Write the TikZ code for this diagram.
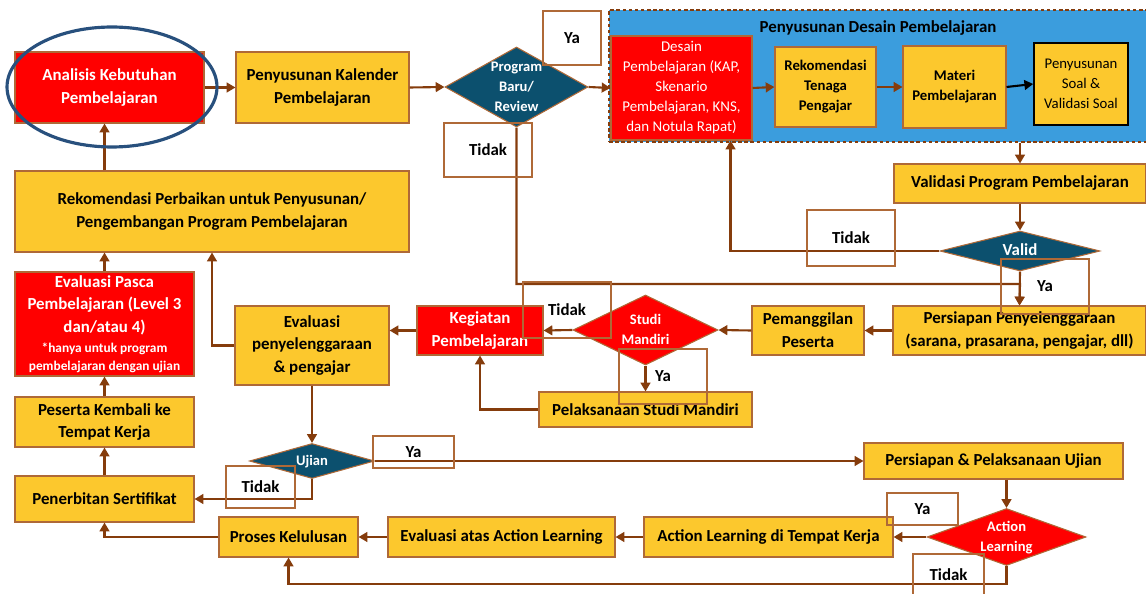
\documentclass[tikz,border=0pt]{standalone}
\usepackage{fontspec}
\setmainfont{Carlito}
\usetikzlibrary{arrows.meta,shapes.geometric}
\definecolor{kuning}{RGB}{252,200,45}
\definecolor{coklat}{RGB}{133,60,12}
\definecolor{garis}{RGB}{175,105,55}
\definecolor{merah}{RGB}{255,0,0}
\definecolor{biru}{RGB}{59,157,221}
\definecolor{birutua}{RGB}{12,80,110}
\definecolor{elips}{RGB}{40,80,125}
% text in a diamond: no height, so the diamond keeps its size
\newcommand{\tumpuk}[1]{\smash{\raisebox{-2.5pt}{\begin{tabular}{@{}c@{}}#1\end{tabular}}}}
\begin{document}
\begin{tikzpicture}[x=0.02cm, y=-0.02cm,
  every node/.style={inner sep=0pt, align=center, font=\bfseries\fontsize{9.6}{13}\selectfont},
  sz/.style 2 args={minimum width=#1*0.02cm, minimum height=#2*0.02cm},
  kotak/.style={draw=garis, line width=0.6pt, fill=kuning},
  merahbox/.style={draw=garis, line width=0.6pt, fill=merah, text=white},
  kecil/.style={font=\bfseries\fontsize{8.4}{11.4}\selectfont},
  belah/.style={diamond, draw=garis, line width=0.6pt, text=white, font=\bfseries\fontsize{8.3}{11.4}\selectfont},
  ket/.style={draw=garis, line width=0.6pt},
  panah/.style={draw=coklat, line width=1.2pt, -{Triangle[length=5pt,width=5.5pt]}}]
\useasboundingbox (0,0) rectangle (1146,594);
\clip (0,0) rectangle (1146,594);

% design block
\node[fill=biru, draw=coklat, line width=0.8pt, dash pattern=on 2pt off 1.5pt, sz={539}{132}] (desreg) at (878.5,76) {};
\node (judul) at (878,28) {Penyusunan Desain Pembelajaran};
\node[merahbox, sz={141}{104}, font=\fontsize{8.5}{11.4}\selectfont] (des) at (681.5,88)
  {Desain\\Pembelajaran (KAP,\\Skenario\\Pembelajaran, KNS,\\dan Notula Rapat)};
\node[kotak, kecil, sz={101}{80}] (rtp) at (825.5,87) {Rekomendasi\\Tenaga\\Pengajar};
\node[kotak, kecil, sz={103}{82}] (mat) at (954.5,87) {Materi\\Pembelajaran};
\node[kotak, draw=black, line width=0.9pt, sz={94}{82}, font=\fontsize{8.4}{11.4}\selectfont] (soal) at (1081,84)
  {Penyusunan\\Soal \&\\Validasi Soal};

% top row and left column
\node[merahbox, sz={189}{71}] (ana) at (109.5,87.5) {Analisis Kebutuhan\\Pembelajaran};
\node[kotak, sz={173}{71}] (kal) at (322.5,87.5) {Penyusunan Kalender\\Pembelajaran};
\node[belah, fill=birutua, sz={143}{80}] (prog) at (516.5,87) {\tumpuk{Program\\Baru/\\Review}};
\node[kotak, sz={394}{81}] (rek) at (212,211.5) {Rekomendasi Perbaikan untuk Penyusunan/\\Pengembangan Program Pembelajaran};
\node[merahbox, sz={179}{104}] (epp) at (104.5,324)
  {Evaluasi Pasca\\Pembelajaran (Level 3\\dan/atau 4)\\[-1.7pt]
   \fontsize{7.6}{9.7}\selectfont *hanya untuk program\\[-2.8pt]
   \fontsize{7.6}{9.7}\selectfont pembelajaran dengan ujian};
\node[kotak, sz={179}{50}] (pkk) at (104.5,422) {Peserta Kembali ke\\Tempat Kerja};
\node[kotak, sz={179}{46}] (pen) at (104.5,499) {Penerbitan Sertifikat};

% middle
\node[kotak, sz={252}{39}] (val) at (1020,183.5) {Validasi Program Pembelajaran};
\node[belah, fill=birutua, sz={160}{40}, font=\bfseries\fontsize{9.6}{13}\selectfont] (valid) at (1020,251) {\tumpuk{Valid}};
\node[kotak, sz={253}{49}] (pp) at (1019.5,330.5) {Persiapan Penyelenggaraan\\(sarana, prasarana, pengajar, dll)};
\node[kotak, sz={112}{49}] (pem) at (808,330.5) {Pemanggilan\\Peserta};
\node[belah, fill=merah, sz={145}{70}] (sm) at (645.5,330) {\tumpuk{Studi\\Mandiri}};
\node[merahbox, sz={126}{49}] (keg) at (480,330.5) {Kegiatan\\Pembelajaran};
\node[kotak, sz={213}{35}] (psm) at (645.5,409.5) {Pelaksanaan Studi Mandiri};
\node[kotak, sz={154}{79}] (evp) at (312,345.5) {Evaluasi\\penyelenggaraan\\\& pengajar};

% bottom
\node[belah, fill=birutua, sz={125}{35}] (uj) at (312,461) {\tumpuk{Ujian}};
\node[kotak, sz={259}{36}] (ppu) at (993.5,461) {Persiapan \& Pelaksanaan Ujian};
\node[belah, fill=merah, sz={159}{57}] (al) at (1006.5,537) {\tumpuk{Action\\Learning}};
\node[kotak, sz={249}{40}] (alt) at (768.5,537) {Action Learning di Tempat Kerja};
\node[kotak, sz={227}{40}] (eal) at (501.5,537) {Evaluasi atas Action Learning};
\node[kotak, sz={139}{40}] (pk) at (288.5,537) {Proses Kelulusan};

% connectors
\draw[panah] (ana.east) -- (kal.west);
\draw[panah] (kal.east) -- (prog.west);
\draw[panah] (prog.east) -- (des.west);
\draw[panah] (des.east) -- (rtp.west);
\draw[panah] (rtp.east) -- (mat.west);
\draw[panah, draw=black] (mat.east) -- (soal.west);
\draw[panah] (val.north |- desreg.south) -- (val.north);
\draw[panah] (val.south) -- (valid.north);
\draw[panah] (valid.west) -| ([xshift=-0.44cm]des.south east);
\coordinate (temu) at (1020,284);
\draw[panah] (prog.south) |- (temu) -- (pp.north);
\draw[panah] (valid.south) -- (pp.north);
\draw[panah] (pp.west) -- (pem.east);
\draw[panah] (pem.west) -- (sm.east);
\draw[panah] (sm.west) -- (keg.east);
\draw[panah] (sm.south) -- (psm.north);
\draw[panah] (psm.west) -| (keg.south);
\draw[panah] (keg.west) -- (keg.west -| evp.east);
\draw[panah] (evp.west) -| (rek.south);
\draw[panah] (epp.north |- rek.north) -- (epp.north |- ana.south);
\draw[panah] (epp.north) -- (epp.north |- rek.south);
\draw[panah] (pkk.north) -- (epp.south);
\draw[panah] (pen.north) -- (pkk.south);
\draw[panah] (evp.south) -- (uj.north);
\draw[panah] (uj.south) |- (pen.east);
\draw[panah] (uj.east) -- (ppu.west);
\draw[panah] (al.north |- ppu.south) -- (al.north);
\draw[panah] (al.west) -- (alt.east);
\draw[panah] (alt.west) -- (eal.east);
\draw[panah] (eal.west) -- (pk.east);
\draw[panah] (al.south) -- ++(0,18) -| (pk.south);
\draw[panah] (pk.west) -| (pen.south);

\draw[elips, line width=1.8pt] (112,87) ellipse [x radius=2.1cm, y radius=1.2cm];

% Ya / Tidak boxes
\foreach \nm/\x/\y/\w/\h/\teks in {ya1/572/38/58/54/Ya, td1/488/150/88/54/Tidak,
    td2/851/238/88/56/Tidak, ya2/1045/286.5/88/55/Ya, td3/567/310/88/56/Tidak,
    ya3/663/376.5/88/55/Ya, td4/260.5/487/69/42/Tidak, ya4/413.5/452/81/32/Ya,
    ya5/922.5/509/71/32/Ya, td5/948.5/575/71/42/Tidak}
  \node[ket, sz={\w}{\h}] (\nm) at (\x,\y) {\teks};
\end{tikzpicture}
\end{document}
